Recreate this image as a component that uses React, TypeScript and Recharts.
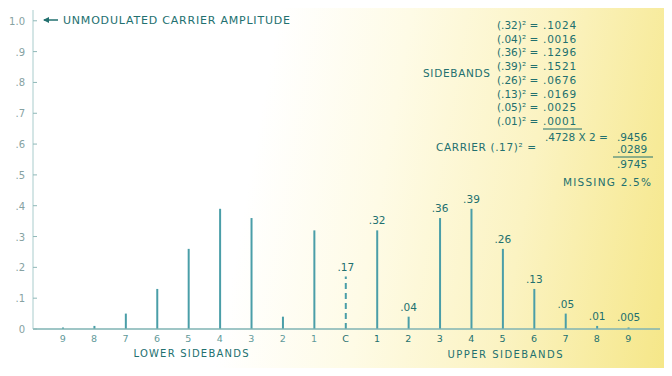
import { BarChart, Bar, XAxis, YAxis, LabelList } from 'recharts'

// order on the axis: lower sidebands 9..1, carrier, upper sidebands 1..9
const tickLabels = ['9', '8', '7', '6', '5', '4', '3', '2', '1', 'C', '1', '2', '3', '4', '5', '6', '7', '8', '9']
const lowerValues = [0.005, 0.01, 0.05, 0.13, 0.26, 0.39, 0.36, 0.04, 0.32]
const carrierValue = 0.17
const upperValues = [0.32, 0.04, 0.36, 0.39, 0.26, 0.13, 0.05, 0.01, 0.005]
const upperLabels = ['.32', '.04', '.36', '.39', '.26', '.13', '.05', '.01', '.005']
const carrierLabel = '.17'
const yTicks = [0, 0.1, 0.2, 0.3, 0.4, 0.5, 0.6, 0.7, 0.8, 0.9, 1.0]

const squareRows = ['(.32)\u00b2 =', '(.04)\u00b2 =', '(.36)\u00b2 =', '(.39)\u00b2 =', '(.26)\u00b2 =', '(.13)\u00b2 =', '(.05)\u00b2 =', '(.01)\u00b2 =']
const squareValues = ['.1024', '.0016', '.1296', '.1521', '.0676', '.0169', '.0025', '.0001']

const TEXT = '#22706f'
const STEM = '#4a9ea8'

const data = tickLabels.map((t, i) => {
  let value = 0
  let label = ''
  if (i < 9) value = lowerValues[i]
  else if (i === 9) {
    value = carrierValue
    label = carrierLabel
  } else {
    value = upperValues[i - 10]
    label = upperLabels[i - 10]
  }
  return { key: `k${i}`, tick: t, value, label, carrier: i === 9 }
})

const Stem = (props: any) => {
  const { x, y, width, height, payload } = props
  const cx = x + width / 2
  return (
    <line
      x1={cx}
      x2={cx}
      y1={y + height}
      y2={y}
      stroke={STEM}
      strokeWidth={2}
      strokeDasharray={payload.carrier ? '6 4' : undefined}
    />
  )
}

const YTick = (props: any) => {
  const { x, y, payload } = props
  const v = payload.value
  const txt = v === 0 ? '0' : v === 1 ? '1.0' : '.' + Math.round(v * 10)
  return (
    <g>
      <line x1={33} x2={37} y1={y} y2={y} stroke="#8fb8b8" strokeWidth={1} />
      <text x={x} y={y + 4} textAnchor="end" fontSize={10} fill="#86a2a2">
        {txt}
      </text>
    </g>
  )
}

const XTick = (props: any) => {
  const { x, y, payload, index } = props
  return (
    <text x={x} y={y + 5} textAnchor="middle" fontSize={9.5} fill={index >= 9 ? TEXT : '#5f9a9a'}>
      {tickLabels[index] ?? payload.value}
    </text>
  )
}

const StemLabel = (props: any) => {
  const { x, y, width, value } = props
  if (!value) return null
  return (
    <text x={x + width / 2} y={y - 6} textAnchor="middle" fontSize={10.5} fill={TEXT}>
      {value}
    </text>
  )
}

export default function App() {
  const font = '"DejaVu Sans", sans-serif'
  return (
    <div
      style={{
        position: 'relative',
        width: 672,
        height: 376,
        margin: -8,
        fontFamily: font,
        background: 'linear-gradient(100deg, #ffffff 0%, #ffffff 38%, #fefbe6 56%, #fbf3c2 76%, #f5e685 100%)',
        overflow: 'hidden',
      }}
    >
      <BarChart
        width={672}
        height={376}
        data={data}
        margin={{ top: 10, right: 12, bottom: 0, left: 0 }}
        style={{ fontFamily: font }}
      >
        <XAxis
          dataKey="key"
          height={47}
          padding={{ left: 14, right: 16 }}
          axisLine={{ stroke: '#7fb3b3', strokeWidth: 1.5 }}
          tickLine={false}
          tick={<XTick />}
          interval={0}
        />
        <XAxis
          xAxisId="top"
          dataKey="key"
          orientation="top"
          height={0}
          tick={false}
          tickLine={false}
          axisLine={{ stroke: '#d9dcc8', strokeWidth: 1 }}
        />
        <YAxis
          width={33}
          domain={[0, 1.035]}
          ticks={yTicks}
          interval={0}
          axisLine={{ stroke: '#a9cccc', strokeWidth: 1 }}
          tickLine={false}
          tick={<YTick />}
        />
        <YAxis
          yAxisId="right"
          orientation="right"
          width={0}
          tick={false}
          tickLine={false}
          axisLine={{ stroke: '#9a9a80', strokeWidth: 1.2 }}
        />
        <Bar dataKey="value" barSize={2} shape={<Stem />} isAnimationActive={false}>
          <LabelList dataKey="label" content={<StemLabel />} />
        </Bar>
      </BarChart>

      <svg
        width={672}
        height={376}
        style={{ position: 'absolute', left: 0, top: 0, pointerEvents: 'none' }}
        fontFamily={font}
        fill={TEXT}
      >
        <line x1={44} x2={58} y1={20} y2={20} stroke={TEXT} strokeWidth={1.5} />
        <path d="M43,20 L49,17 L49,23 Z" fill={TEXT} />
        <text x={63} y={24} fontSize={11} textLength={227} lengthAdjust="spacing">
          UNMODULATED CARRIER AMPLITUDE
        </text>

        <text x={423} y={77} fontSize={10.5} textLength={67} lengthAdjust="spacing">
          SIDEBANDS
        </text>
        {squareRows.map((r, i) => (
          <text key={r + i} x={497} y={29 + i * 13.7} fontSize={10.5}>
            {r}
          </text>
        ))}
        {squareValues.map((v, i) => (
          <text key={v + i} x={543} y={29 + i * 13.7} fontSize={10.5} letterSpacing={0.8}>
            {v}
          </text>
        ))}
        <line x1={543} x2={582} y1={129} y2={129} stroke={TEXT} strokeWidth={1} />
        <text x={545} y={141} fontSize={10.5}>.4728 X 2 =</text>
        <text x={617} y={141} fontSize={10.5}>.9456</text>
        <text x={436} y={151} fontSize={10.5} textLength={100} lengthAdjust="spacing">
          CARRIER (.17)² =
        </text>
        <text x={617} y={153} fontSize={10.5}>.0289</text>
        <line x1={613} x2={653} y1={157} y2={157} stroke={TEXT} strokeWidth={1} />
        <text x={617} y={168} fontSize={10.5}>.9745</text>
        <text x={563} y={186} fontSize={10.5} textLength={88} lengthAdjust="spacing">
          MISSING 2.5%
        </text>

        <text x={191} y={357} fontSize={10} textAnchor="middle" textLength={115} lengthAdjust="spacing">
          LOWER SIDEBANDS
        </text>
        <text x={505} y={358} fontSize={10} textAnchor="middle" textLength={115} lengthAdjust="spacing">
          UPPER SIDEBANDS
        </text>
        <text x={348} y={375} fontSize={9} textAnchor="middle">
          (A)
        </text>
      </svg>
    </div>
  )
}
